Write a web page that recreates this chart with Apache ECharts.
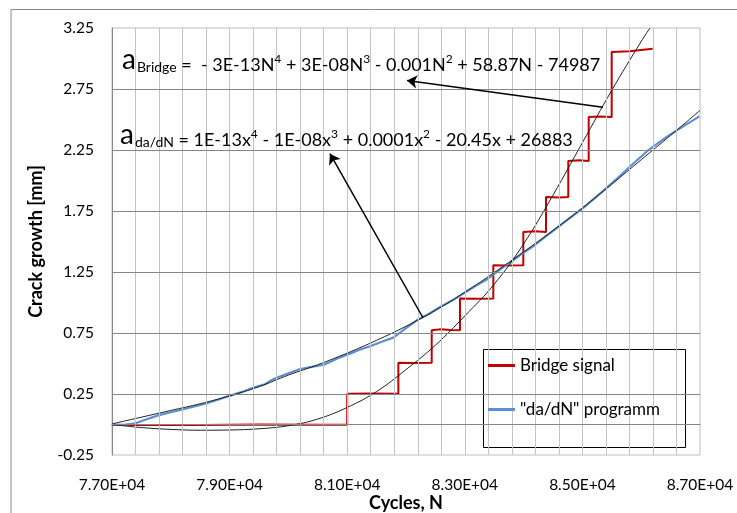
<!DOCTYPE html>
<html>
<head>
<meta charset="utf-8">
<script src="https://cdn.jsdelivr.net/npm/echarts@6/dist/echarts.min.js"></script>
<style>html,body{margin:0;padding:0;background:#fff}#c{width:737px;height:513px}</style>
</head>
<body>
<div id="c"></div>
<script>
// ---- data ----
var bridgeN = [77000, 78500, 79500, 80500, 81000, 81000, 81400, 81870, 81870, 82100, 82437, 82437, 82600, 82750, 82918, 82918, 83200, 83485, 83485, 83700, 83995, 83995, 84200, 84381, 84381, 84600, 84760, 84760, 84950, 85107, 85107, 85300, 85498, 85498, 85800, 86195];
var bridgeA = [-0.005, -0.005, 0.0, -0.003, -0.003, 0.253, 0.255, 0.253, 0.507, 0.505, 0.507, 0.772, 0.78, 0.775, 0.772, 1.032, 1.03, 1.032, 1.305, 1.303, 1.305, 1.578, 1.585, 1.578, 1.865, 1.86, 1.865, 2.16, 2.165, 2.16, 2.52, 2.525, 2.52, 3.053, 3.06, 3.08];

var dadnN = [77000, 77200, 77400, 77600, 77800, 78000, 78200, 78400, 78600, 78800, 79000, 79200, 79400, 79600, 79700, 79800, 80000, 80200, 80400, 80600, 80707, 80850, 81048, 81200, 81388, 81600, 81784, 82000, 82182, 82400, 82578, 82800, 82975, 83200, 83372, 83500, 83655, 83769, 84000, 84165, 84400, 84733, 85000, 85299, 85600, 85866, 86100, 86433, 86700, 86989];
var dadnA = [0.0, -0.003, 0.01, 0.045, 0.077, 0.1, 0.123, 0.148, 0.172, 0.203, 0.235, 0.265, 0.301, 0.33, 0.36, 0.383, 0.42, 0.455, 0.472, 0.49, 0.512, 0.545, 0.581, 0.61, 0.641, 0.68, 0.712, 0.79, 0.854, 0.91, 0.963, 1.02, 1.073, 1.14, 1.188, 1.235, 1.291, 1.325, 1.41, 1.461, 1.55, 1.674, 1.77, 1.893, 2.02, 2.139, 2.24, 2.357, 2.44, 2.526];

var fitDadnN = [77000, 77500, 78000, 78500, 79000, 79500, 80000, 80500, 81000, 81500, 82000, 82500, 83000, 83500, 84000, 84500, 85000, 85500, 86000, 86500, 87000];
var fitDadnA = [0.005, 0.06, 0.115, 0.17, 0.235, 0.31, 0.405, 0.49, 0.585, 0.69, 0.805, 0.935, 1.085, 1.245, 1.415, 1.59, 1.775, 1.97, 2.17, 2.37, 2.575];

var fitBridgeN = [77000, 77500, 78000, 78500, 79000, 79500, 80000, 80500, 81000, 81500, 82000, 82500, 83000, 83500, 84000, 84500, 85000, 85500, 86000, 86150];
var fitBridgeA = [0.0, -0.025, -0.04, -0.047, -0.045, -0.035, -0.01, 0.045, 0.14, 0.27, 0.45, 0.65, 0.89, 1.15, 1.48, 1.88, 2.31, 2.74, 3.14, 3.25];

var vGridN = [77400, 77800, 78200, 78600, 79000, 79400, 79800, 80200, 80600, 81000, 81400, 81800, 82200, 82600, 83000, 83400, 83800, 84200, 84600, 85000, 85400, 85800, 86200, 86600];
var hGridA = [0, 0.25, 0.75, 1.25, 1.75, 2.25, 2.75];
var yLabelValues = [-0.25, 0.25, 0.75, 1.25, 1.75, 2.25, 2.75, 3.25];
var xLabelValues = [77000, 79000, 81000, 83000, 85000, 87000];

var seriesNames = ['Bridge signal', '"da/dN" programm'];
var arrowBridge = [[85350, 2.60], [82017, 2.82]];
var arrowDadn = [[82289, 0.875], [80707, 2.22]];

function zip(a, b) { return a.map(function (v, i) { return [v, b[i]]; }); }

var FONT = 'Lato';
var chart = echarts.init(document.getElementById('c'), null, {renderer: 'canvas'});

var eqRich = {
  a: {fontSize: 28, fontFamily: FONT, verticalAlign: 'bottom', lineHeight: 30, fill: '#000'},
  sub: {fontSize: 14, fontFamily: FONT, verticalAlign: 'bottom', lineHeight: 18, padding: [0, 0, 0, 1], fill: '#000'},
  t: {fontSize: 18, fontFamily: FONT, verticalAlign: 'bottom', lineHeight: 20, fill: '#000'},
  sup: {fontSize: 12, fontFamily: FONT, verticalAlign: 'bottom', lineHeight: 12, padding: [0, 0, 9, 0], fill: '#000'}
};

var option = {
  animation: false,
  backgroundColor: '#fff',
  textStyle: {fontFamily: FONT},
  grid: {left: 112, right: 37, top: 28, bottom: 58, show: true, borderColor: '#bdbdbd', borderWidth: 1,
    containLabel: false, outerBoundsMode: 'none'},
  xAxis: {
    type: 'value', min: 77000, max: 87000, interval: 1000,
    name: 'Cycles, N', nameLocation: 'middle', nameGap: 39, nameMoveOverlap: false,
    nameTextStyle: {fontFamily: FONT, fontWeight: 'bold', fontSize: 18, color: '#000'},
    axisLine: {show: true, lineStyle: {color: '#868686'}},
    axisTick: {show: false},
    splitLine: {show: false},
    axisLabel: {
      margin: 22, fontSize: 15.5, color: '#000', fontFamily: FONT,
      formatter: function (v) {
        return xLabelValues.indexOf(v) >= 0 ? (v / 10000).toFixed(2) + 'E+04' : '';
      }
    }
  },
  yAxis: {
    type: 'value', min: -0.25, max: 3.25, interval: 0.25,
    name: 'Crack growth [mm]', nameLocation: 'middle', nameGap: 67, nameMoveOverlap: false,
    nameTextStyle: {fontFamily: FONT, fontWeight: 'bold', fontSize: 18, color: '#000'},
    axisLine: {show: true, lineStyle: {color: '#868686'}},
    axisTick: {show: false},
    splitLine: {show: false},
    axisLabel: {
      margin: 18, fontSize: 15.5, color: '#000', fontFamily: FONT,
      formatter: function (v) {
        for (var i = 0; i < yLabelValues.length; i++) {
          if (Math.abs(yLabelValues[i] - v) < 1e-6) return v.toFixed(2);
        }
        return '';
      }
    }
  },
  legend: {
    z: 20,
    orient: 'vertical', left: 483, top: 352, itemGap: 27,
    itemWidth: 27, itemHeight: 3,
    textStyle: {fontFamily: FONT, fontSize: 17, color: '#000'},
    data: [
      {name: seriesNames[0], icon: 'rect', itemStyle: {color: '#c00000'}},
      {name: seriesNames[1], icon: 'rect', itemStyle: {color: '#5b8fd1'}}
    ]
  },
  graphic: [
    {type: 'rect', silent: true, z: -10, shape: {x: 11, y: 9.5, width: 900, height: 900},
      style: {fill: 'none', stroke: '#8a8a8a', lineWidth: 1}},
    {type: 'rect', silent: true, z: 1, shape: {x: 114, y: 40, width: 490, height: 37}, style: {fill: '#fff'}},
    {type: 'rect', silent: true, z: 1, shape: {x: 114, y: 114, width: 462, height: 44}, style: {fill: '#fff'}},
    {type: 'rect', silent: true, z: 5, shape: {x: 483.5, y: 349.5, width: 202, height: 98}, style: {fill: '#fff', stroke: '#000', lineWidth: 1}},
    {type: 'text', z: 6, x: 122, y: 59, silent: true,
      style: {
        text: '{a|a}{sub|Bridge}{t| =  - 3E-13N}{sup|4}{t| + 3E-08N}{sup|3}{t| - 0.001N}{sup|2}{t| + 58.87N - 74987}',
        verticalAlign: 'middle', fill: '#000', font: '17px ' + FONT, rich: eqRich
      }},
    {type: 'text', z: 6, x: 120, y: 134, silent: true,
      style: {
        text: '{a|a}{sub|da/dN}{t| = 1E-13x}{sup|4}{t| - 1E-08x}{sup|3}{t| + 0.0001x}{sup|2}{t| - 20.45x + 26883}',
        verticalAlign: 'middle', fill: '#000', font: '17px ' + FONT, rich: eqRich
      }}
  ],
  series: [
    {
      type: 'line', name: '_grid', data: [], z: 0, silent: true, symbol: 'none',
      markLine: {
        silent: true, symbol: 'none', animation: false, label: {show: false},
        data: vGridN.map(function (v) { return {xAxis: v, lineStyle: {color: '#c4c4c4', width: 1, type: 'solid'}}; })
          .concat(hGridA.map(function (v) { return {yAxis: v, lineStyle: {color: '#868686', width: 1, type: 'solid'}}; }))
      }
    },
    {
      type: 'line', name: '_fitBridge', data: zip(fitBridgeN, fitBridgeA), z: 3, symbol: 'none', smooth: 0.4,
      lineStyle: {color: '#222', width: 1}, silent: true
    },
    {
      type: 'line', name: '_fitDadn', data: zip(fitDadnN, fitDadnA), z: 3, symbol: 'none', smooth: 0.4,
      lineStyle: {color: '#222', width: 1}, silent: true
    },
    {
      type: 'line', name: seriesNames[0], data: zip(bridgeN, bridgeA), z: 2, symbol: 'none',
      lineStyle: {color: '#c00000', width: 2}, itemStyle: {color: '#c00000'}
    },
    {
      type: 'line', name: seriesNames[1], data: zip(dadnN, dadnA), z: 2, symbol: 'none',
      lineStyle: {color: '#5b8fd1', width: 2.2}, itemStyle: {color: '#5b8fd1'}
    },
    {
      type: 'line', name: '_arrows', data: [], z: 7, symbol: 'none', silent: true,
      markLine: {
        silent: true, symbol: ['none', 'arrow'], symbolSize: 10, animation: false,
        label: {show: false},
        lineStyle: {color: '#000', width: 1.5, type: 'solid'},
        data: [
          [{coord: arrowBridge[0]}, {coord: arrowBridge[1]}],
          [{coord: arrowDadn[0]}, {coord: arrowDadn[1]}]
        ]
      }
    }
  ]
};
chart.setOption(option);
</script>
</body>
</html>
